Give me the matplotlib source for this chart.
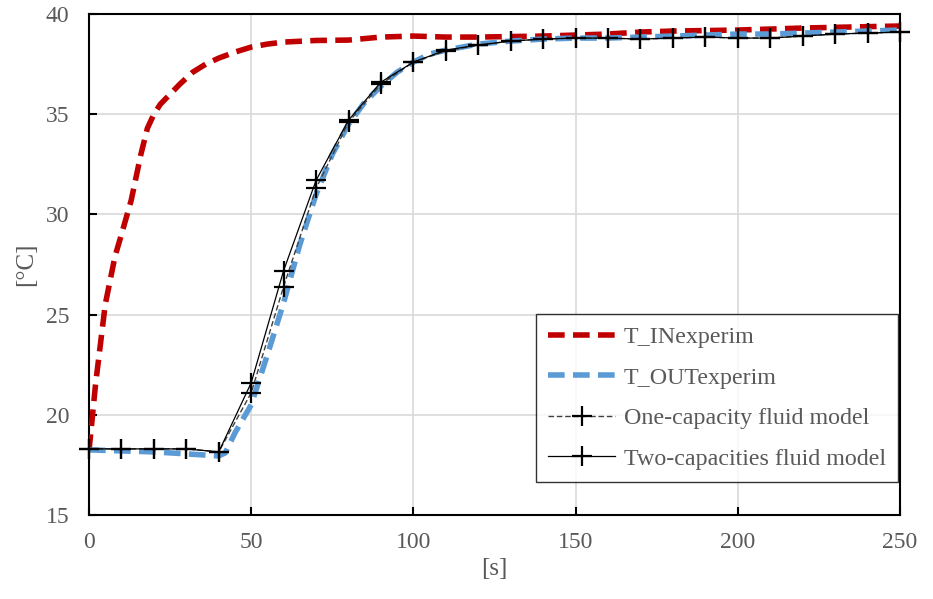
import numpy as np
import matplotlib
matplotlib.use("Agg")
from matplotlib import pyplot as plt

# measured inlet / outlet temperatures
t_in = [0, 2, 5, 8, 10, 13, 16, 18, 20, 22, 25, 28, 32, 36, 40, 45, 50, 55, 60, 70,
        80, 90, 100, 110, 120, 140, 160, 170, 180, 200, 220, 240, 250]
T_in = [18.2, 21.5, 25.5, 27.9, 29.0, 30.7, 33.0, 34.3, 35.0, 35.5, 36.0, 36.5, 37.1,
        37.5, 37.8, 38.1, 38.35, 38.5, 38.6, 38.68, 38.7, 38.85, 38.9, 38.85, 38.85,
        38.9, 39.0, 39.1, 39.15, 39.2, 39.3, 39.37, 39.4]

t_out = [0, 10, 20, 30, 35, 40, 42, 45, 50, 55, 60, 65, 70, 75, 80, 85, 90, 95, 100,
         105, 110, 120, 130, 140, 150, 160, 170, 180, 190, 200, 210, 220, 230, 240, 250]
T_out = [18.25, 18.2, 18.15, 18.05, 18.0, 17.95, 18.1, 19.1, 20.5, 23.0, 25.6, 28.5,
         31.0, 33.0, 34.5, 35.6, 36.4, 37.1, 37.6, 38.0, 38.2, 38.5, 38.65, 38.75,
         38.8, 38.8, 38.85, 38.9, 38.95, 39.0, 39.0, 39.05, 39.1, 39.15, 39.2]

# model results every 10 s
t_mod = np.arange(0, 260, 10)
T_one = [18.3, 18.3, 18.3, 18.3, 18.15, 21.1, 26.4, 31.3, 34.6, 36.5, 37.6, 38.15,
         38.45, 38.65, 38.75, 38.8, 38.8, 38.75, 38.8, 38.85, 38.8, 38.8, 38.9, 39.0,
         39.05, 39.1]
T_two = [18.3, 18.3, 18.3, 18.3, 18.15, 21.6, 27.2, 31.7, 34.7, 36.6, 37.6, 38.2,
         38.45, 38.65, 38.75, 38.8, 38.8, 38.75, 38.8, 38.85, 38.8, 38.8, 38.9, 39.0,
         39.05, 39.1]

plt.rcParams['font.family'] = ['Liberation Serif', 'DejaVu Serif']
txt = '#595959'

fig = plt.figure(figsize=(9.33, 5.99), dpi=100)
ax = fig.add_axes([0.0954, 0.1402, 0.8692, 0.8364])

ax.plot(t_in, T_in, color='#c00000', lw=4.0, dashes=(3, 1.5), label='T_INexperim', zorder=3)
ax.plot(t_out, T_out, color='#5b9bd5', lw=4.0, dashes=(3, 1.5), label='T_OUTexperim', zorder=3)
ax.plot(t_mod, T_one, color='#404040', lw=1.0, ls=(0, (4, 2)), marker='+', ms=14,
        mew=1.6, mec='black', label='One-capacity fluid model', zorder=4, clip_on=False)
ax.plot(t_mod, T_two, color='black', lw=0.9, marker='+', ms=14, mew=1.6,
        label='Two-capacities fluid model', zorder=4, clip_on=False)

ax.set_xlim(0, 250)
ax.set_ylim(15, 40)
ax.set_xticks(np.arange(0, 251, 50))
ax.set_yticks(np.arange(15, 41, 5))
ax.grid(True, color='#d9d9d9', lw=1.2)
ax.set_axisbelow(True)
for s in ax.spines.values():
    s.set_color('black')
    s.set_linewidth(1.5)
ax.tick_params(direction='in', length=6, width=1.5, colors='black', labelcolor=txt,
               labelsize=17)
ax.tick_params(axis='y', pad=14)
ax.tick_params(axis='x', pad=12)

ax.set_xlabel('[s]', fontsize=18, color=txt, labelpad=4)
ax.set_ylabel('[°C]', fontsize=18, color=txt, labelpad=6)

leg = ax.legend(loc='upper left', bbox_to_anchor=(0.551, 0.401), fontsize=17.3,
                frameon=True, fancybox=False, handlelength=2.8, labelspacing=0.78,
                borderpad=0.5, handletextpad=0.35, borderaxespad=0)
leg.get_frame().set_edgecolor('black')
leg.get_frame().set_linewidth(1.0)
for tx in leg.get_texts():
    tx.set_color(txt)

fig.savefig('out.png', dpi=100)
